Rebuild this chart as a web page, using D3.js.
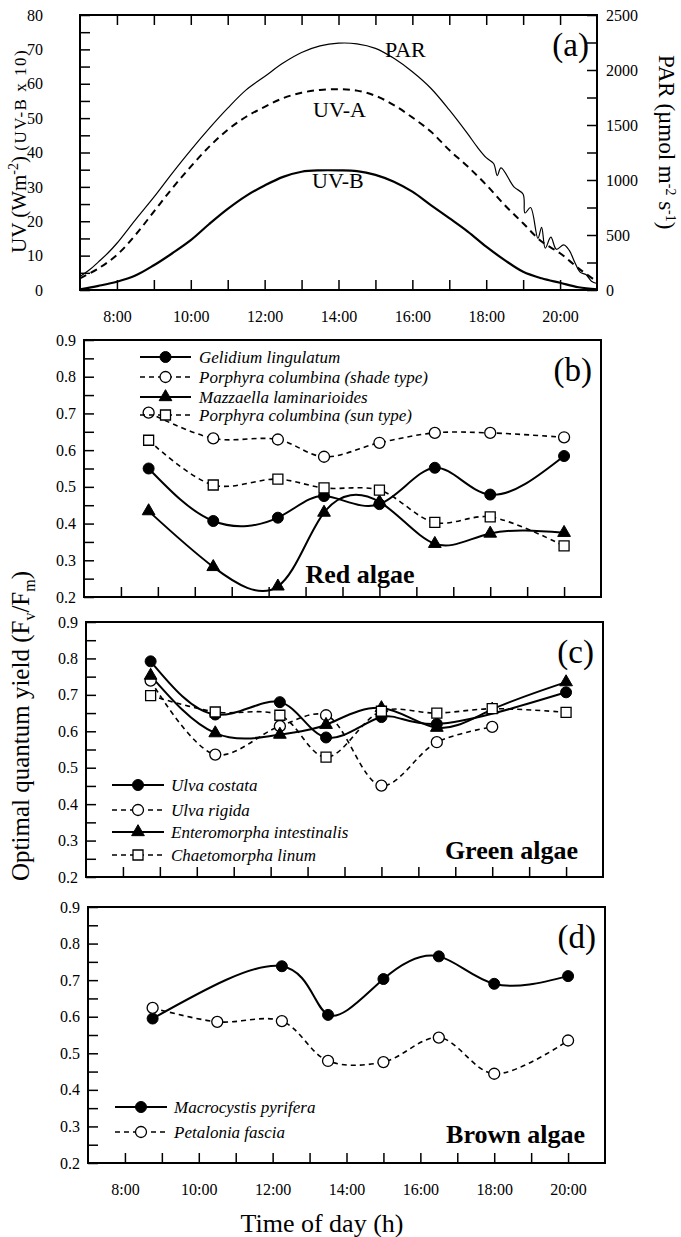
<!DOCTYPE html>
<html>
<head>
<meta charset="utf-8">
<script src="https://cdnjs.cloudflare.com/ajax/libs/d3/7.8.5/d3.min.js"></script>
<style>
body { margin: 0; background: #fff; }
svg { display: block; }
</style>
</head>
<body>
<div id="chart"></div>
<script>

// ---- panel (a): irradiance over the day (hours as decimals) ----
var parTime  = [7, 7.25, 7.5, 7.75, 8, 8.5, 9, 9.5, 10, 10.5, 11, 11.5, 12, 12.5, 13, 13.5, 14, 14.5, 15, 15.5, 16, 16.5, 17, 17.5, 17.75, 18, 18.2, 18.3, 18.4, 18.75, 19, 19.05, 19.2, 19.4, 19.5, 19.6, 19.75, 19.9, 20.1, 20.25, 20.4, 20.55, 20.7, 20.85, 21];
var parValue = [122, 181, 256, 334, 425, 638, 844, 1063, 1272, 1469, 1653, 1819, 1941, 2063, 2159, 2219, 2244, 2238, 2197, 2106, 1984, 1834, 1637, 1419, 1303, 1203, 1150, 1040, 1110, 938, 870, 700, 750, 470, 570, 380, 480, 370, 410, 360, 250, 160, 140, 80, 59];

var uvTime   = [7, 7.5, 8, 8.5, 9, 9.5, 10, 10.5, 11, 11.5, 12, 12.5, 13, 13.5, 14, 14.5, 15, 15.5, 16, 16.5, 17, 17.5, 18, 18.5, 19, 19.5, 20, 20.5, 21];
var uvaValue = [3.4, 6.3, 10.2, 16.0, 22.8, 29.6, 35.9, 41.7, 46.6, 50.4, 53.3, 55.8, 57.4, 58.2, 58.4, 58.0, 56.5, 53.8, 50.2, 46.1, 40.7, 35.9, 30.6, 24.7, 19.4, 14.1, 10.7, 6.3, 2.4];
var uvbValue = [0.2, 1.2, 2.4, 4.2, 7.2, 10.7, 14.5, 19.2, 23.6, 27.4, 30.4, 32.9, 34.4, 34.8, 34.8, 34.6, 33.5, 31.5, 28.6, 24.7, 20.9, 17.0, 12.6, 8.7, 5.3, 3.4, 2.1, 0.8, 0.2];

// ---- panels (b)-(d): optimal quantum yield at sampling times ----
var sampleTime = [8.75, 10.5, 12.25, 13.5, 15, 16.5, 18, 20];

var gelidium      = [0.550, 0.407, 0.416, 0.475, 0.453, 0.552, 0.479, 0.584];
var porphyraShade = [0.702, 0.632, 0.629, 0.582, 0.620, 0.647, 0.647, 0.635];
var mazzaella     = [0.434, 0.282, 0.229, 0.430, 0.459, 0.345, 0.373, 0.375];
var porphyraSun   = [0.627, 0.505, 0.521, 0.497, 0.491, 0.403, 0.418, 0.339];

var ulvaCostata   = [0.792, 0.646, 0.680, 0.583, 0.639, 0.620, null, 0.707];
var ulvaRigida    = [0.739, 0.536, 0.614, 0.644, 0.451, 0.570, 0.612, null];
var enteromorpha  = [0.753, 0.595, 0.591, 0.618, 0.664, 0.610, 0.660, 0.735];
var chaetomorpha  = [0.698, 0.653, 0.644, 0.529, 0.655, 0.650, 0.662, 0.652];

var macrocystis   = [0.595, null, 0.738, 0.605, 0.703, 0.765, 0.690, 0.711];
var petalonia     = [0.624, 0.586, 0.588, 0.479, 0.476, 0.543, 0.444, 0.535];

var timeTicks = [8, 9, 10, 11, 12, 13, 14, 15, 16, 17, 18, 19, 20];
var uvTicks = [0, 5, 10, 15, 20, 25, 30, 35, 40, 45, 50, 55, 60, 65, 70, 75, 80];
var parTicks = [0, 250, 500, 750, 1000, 1250, 1500, 1750, 2000, 2250, 2500];
var yieldTicks = [0.2, 0.25, 0.3, 0.35, 0.4, 0.45, 0.5, 0.55, 0.6, 0.65, 0.7, 0.75, 0.8, 0.85, 0.9];

var width = 681, height = 1237;

var svg = d3.select("#chart").append("svg")
    .attr("width", width)
    .attr("height", height)
    .style("font-family", "'Liberation Serif', 'Times New Roman', serif");

svg.append("rect").attr("width", width).attr("height", height).attr("fill", "#fff");

function timeLabel(d) { return d % 2 == 0 ? d + ":00" : ""; }

function styleAxis(g) {
    g.select(".domain").remove();
    g.attr("font-family", null).attr("font-size", 16);
    g.selectAll(".tick line").attr("stroke", "#000").attr("stroke-width", 1.5);
    g.selectAll(".tick text").attr("fill", "#000");
}

function frame(p) {
    svg.append("rect")
        .attr("x", p.left).attr("y", p.top)
        .attr("width", p.right - p.left).attr("height", p.bottom - p.top)
        .attr("fill", "none").attr("stroke", "#000").attr("stroke-width", 2);
}

function pairs(xs, ys) {
    return xs.map(function (t, i) { return {t: t, v: ys[i]}; })
             .filter(function (d) { return d.v != null; });
}

// ================= panel (a) =================
var pa = {left: 80, right: 597, top: 15, bottom: 290};
var xa = d3.scaleLinear().domain([7, 21]).range([pa.left, pa.right]);
var yUV = d3.scaleLinear().domain([0, 80]).range([pa.bottom, pa.top]);
var yPAR = d3.scaleLinear().domain([0, 2500]).range([pa.bottom, pa.top]);

svg.append("g").attr("transform", "translate(0," + pa.bottom + ")")
    .call(d3.axisBottom(xa).tickValues(timeTicks).tickSize(-10).tickPadding(21).tickFormat(timeLabel))
    .call(styleAxis);
svg.append("g").attr("transform", "translate(0," + pa.top + ")")
    .call(d3.axisTop(xa).tickValues(timeTicks).tickSize(-10).tickFormat(""))
    .call(styleAxis);
svg.append("g").attr("transform", "translate(" + pa.left + ",0)")
    .call(d3.axisLeft(yUV).tickValues(uvTicks).tickSize(-10).tickPadding(37)
        .tickFormat(function (d) { return d % 10 == 0 ? d : ""; }))
    .call(styleAxis);
svg.append("g").attr("transform", "translate(" + pa.right + ",0)")
    .call(d3.axisRight(yPAR).tickValues(parTicks).tickSize(-10).tickPadding(9)
        .tickFormat(function (d) { return d % 500 == 0 ? d : ""; }))
    .call(styleAxis);

var lineUV = d3.line().x(function (d) { return xa(d.t); }).y(function (d) { return yUV(d.v); })
    .curve(d3.curveCatmullRom);
var linePAR = d3.line().x(function (d) { return xa(d.t); }).y(function (d) { return yPAR(d.v); })
    .curve(d3.curveCatmullRom);

svg.append("path").datum(pairs(parTime, parValue))
    .attr("d", linePAR).attr("fill", "none").attr("stroke", "#000").attr("stroke-width", 1.2);
svg.append("path").datum(pairs(uvTime, uvaValue))
    .attr("d", lineUV).attr("fill", "none").attr("stroke", "#000").attr("stroke-width", 2)
    .attr("stroke-dasharray", "7,5");
svg.append("path").datum(pairs(uvTime, uvbValue))
    .attr("d", lineUV).attr("fill", "none").attr("stroke", "#000").attr("stroke-width", 2.2);

frame(pa);

svg.append("text").attr("x", 385).attr("y", 57).attr("font-size", 22).text("PAR");
svg.append("text").attr("x", 313).attr("y", 117).attr("font-size", 22).text("UV-A");
svg.append("text").attr("x", 312).attr("y", 188).attr("font-size", 22).text("UV-B");

svg.append("text").attr("x", pa.right - 8).attr("y", pa.top + 41)
    .attr("text-anchor", "end").attr("font-size", 33).text("(a)");

// left title of (a)
var ta = svg.append("text").attr("transform", "translate(26,253) rotate(-90)");
ta.append("tspan").attr("font-size", 21).text("UV (Wm");
ta.append("tspan").attr("font-size", 14).attr("dy", -8).text("-2");
ta.append("tspan").attr("font-size", 21).attr("dy", 8).text(") ");
ta.append("tspan").attr("font-size", 17).attr("letter-spacing", 1.5).text("(UV-B x 10)");

// right title of (a)
var tr = svg.append("text").attr("transform", "translate(659,55) rotate(90)").attr("font-size", 23);
tr.append("tspan").text("PAR (\u00b5mol m");
tr.append("tspan").attr("font-size", 14).attr("dy", -7).text("-2");
tr.append("tspan").attr("dy", 7).text(" s");
tr.append("tspan").attr("font-size", 14).attr("dy", -7).text("-1");
tr.append("tspan").attr("dy", 7).text(")");

// ================= panels (b)-(d) =================
function drawMarker(g, kind, x, y) {
    var type = kind == "tri" ? d3.symbolTriangle : (kind == "box" ? d3.symbolSquare : d3.symbolCircle);
    var size = kind == "tri" ? 70 : (kind == "box" ? 100 : 95);
    var filled = kind == "dot" || kind == "tri";
    g.append("path")
        .attr("d", d3.symbol().type(type).size(size))
        .attr("transform", "translate(" + x + "," + y + ")")
        .attr("fill", filled ? "#000" : "#fff")
        .attr("stroke", "#000")
        .attr("stroke-width", filled ? 1 : 1.3);
}

function drawPanel(p) {
    var x = d3.scaleLinear().domain([7, 21]).range([p.left, p.right]);
    var y = d3.scaleLinear().domain([0.2, 0.9]).range([p.bottom, p.top]);
    var g = svg.append("g");

    g.append("g").attr("transform", "translate(0," + p.bottom + ")")
        .call(d3.axisBottom(x).tickValues(timeTicks).tickSize(-10).tickPadding(21)
            .tickFormat(p.timeLabels ? timeLabel : ""))
        .call(styleAxis);
    g.append("g").attr("transform", "translate(" + p.left + ",0)")
        .call(d3.axisLeft(y).tickValues(yieldTicks).tickSize(-10).tickPadding(8)
            .tickFormat(function (d) { return Math.round(d * 100) % 10 == 0 ? d3.format(".1f")(d) : ""; }))
        .call(styleAxis);

    p.series.forEach(function (s) {
        var line = d3.line()
            .x(function (d) { return x(d.t); })
            .y(function (d) { return y(d.v); })
            .curve(s.dashed ? d3.curveCatmullRom.alpha(0.5) : d3.curveNatural);
        g.append("path").datum(pairs(sampleTime, s.values))
            .attr("d", line).attr("fill", "none").attr("stroke", "#000")
            .attr("stroke-width", s.dashed ? 1.6 : 2)
            .attr("stroke-dasharray", s.dashed ? "5,4" : null);
    });
    p.series.forEach(function (s) {
        pairs(sampleTime, s.values).forEach(function (d) {
            drawMarker(g, s.marker, x(d.t), y(d.v));
        });
    });

    // legend
    p.series.forEach(function (s, i) {
        var ry = p.legend.rows[i];
        g.append("line")
            .attr("x1", p.legend.x1).attr("x2", p.legend.x2).attr("y1", ry).attr("y2", ry)
            .attr("stroke", "#000").attr("stroke-width", s.dashed ? 1.6 : 2)
            .attr("stroke-dasharray", s.dashed ? "5,4" : null);
        drawMarker(g, s.marker, (p.legend.x1 + p.legend.x2) / 2, ry);
        g.append("text").attr("x", p.legend.xt).attr("y", ry).attr("dy", "0.33em")
            .attr("font-size", 17).attr("font-style", "italic").text(s.name);
    });

    svg.append("rect")
        .attr("x", p.left).attr("y", p.top)
        .attr("width", p.right - p.left).attr("height", p.bottom - p.top)
        .attr("fill", "none").attr("stroke", "#000").attr("stroke-width", 2);

    g.append("text").attr("x", p.right - 9).attr("y", p.top + 41)
        .attr("text-anchor", "end").attr("font-size", 33).text(p.letter);
    g.append("text").attr("x", p.group.x).attr("y", p.group.y)
        .attr("text-anchor", p.group.anchor).attr("font-size", 26).attr("font-weight", "bold")
        .text(p.group.text);
}

drawPanel({
    left: 84, right: 601, top: 340, bottom: 597, letter: "(b)", timeLabels: false,
    series: [
        {name: "Gelidium lingulatum", values: gelidium, dashed: false, marker: "dot"},
        {name: "Porphyra columbina (shade type)", values: porphyraShade, dashed: true, marker: "ring"},
        {name: "Mazzaella laminarioides", values: mazzaella, dashed: false, marker: "tri"},
        {name: "Porphyra columbina (sun type)", values: porphyraSun, dashed: true, marker: "box"}
    ],
    legend: {x1: 140, x2: 191, xt: 199, rows: [357, 377, 397, 415]},
    group: {text: "Red algae", x: 360, y: 583, anchor: "middle"}
});

drawPanel({
    left: 86, right: 603, top: 622, bottom: 877, letter: "(c)", timeLabels: false,
    series: [
        {name: "Ulva costata", values: ulvaCostata, dashed: false, marker: "dot"},
        {name: "Ulva rigida", values: ulvaRigida, dashed: true, marker: "ring"},
        {name: "Enteromorpha intestinalis", values: enteromorpha, dashed: false, marker: "tri"},
        {name: "Chaetomorpha linum", values: chaetomorpha, dashed: true, marker: "box"}
    ],
    legend: {x1: 112, x2: 164, xt: 171, rows: [785, 810, 832, 855]},
    group: {text: "Green algae", x: 578, y: 859, anchor: "end"}
});

drawPanel({
    left: 88, right: 605, top: 907, bottom: 1163, letter: "(d)", timeLabels: true,
    series: [
        {name: "Macrocystis pyrifera", values: macrocystis, dashed: false, marker: "dot"},
        {name: "Petalonia fascia", values: petalonia, dashed: true, marker: "ring"}
    ],
    legend: {x1: 115, x2: 167, xt: 174, rows: [1107, 1132]},
    group: {text: "Brown algae", x: 585, y: 1143, anchor: "end"}
});

// shared titles
var ty = svg.append("text").attr("transform", "translate(29,881) rotate(-90)").attr("font-size", 25);
ty.append("tspan").text("Optimal quantum yield (F");
ty.append("tspan").attr("font-size", 16).attr("dy", 6).text("v");
ty.append("tspan").attr("dy", -6).text("/F");
ty.append("tspan").attr("font-size", 16).attr("dy", 6).text("m");
ty.append("tspan").attr("dy", -6).text(")");

svg.append("text").attr("x", 322).attr("y", 1232).attr("text-anchor", "middle")
    .attr("font-size", 26).text("Time of day (h)");

</script>
</body>
</html>
